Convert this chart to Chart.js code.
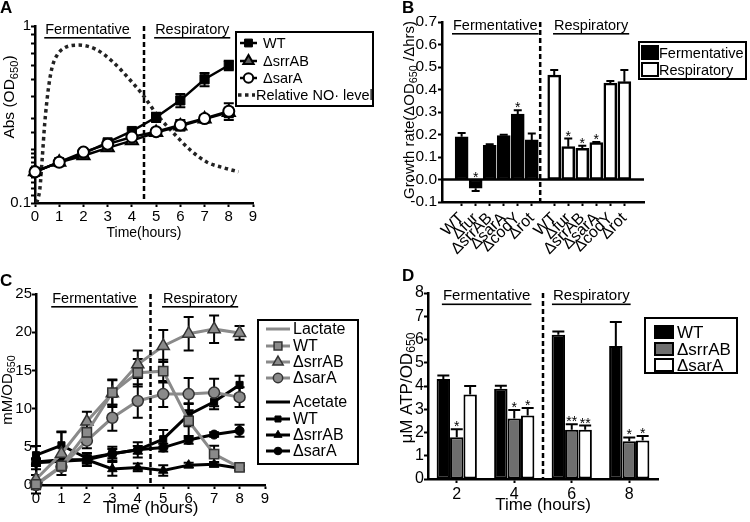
<!DOCTYPE html>
<html>
<head>
<meta charset="utf-8">
<script src="https://cdn.jsdelivr.net/npm/chart.js@4.4.1/dist/chart.umd.min.js"></script>
<style>
  body { margin: 0; background: #fff; width: 750px; height: 522px; position: relative; overflow: hidden; }
  canvas { position: absolute; }
</style>
</head>
<body>
<canvas id="cA" width="375" height="261" style="left:0;top:0"></canvas>
<canvas id="cB" width="375" height="261" style="left:375px;top:0"></canvas>
<canvas id="cC" width="375" height="261" style="left:0;top:261px"></canvas>
<canvas id="cD" width="375" height="261" style="left:375px;top:261px"></canvas>
<script>
// ---- A : growth curves (OD650, log scale) ----
const hoursA   = [0, 1, 2, 3, 4, 5, 6, 7, 8];
const odWT     = [0.15, 0.17, 0.19, 0.22, 0.255, 0.305, 0.38, 0.50, 0.60];
const odWTErr  = [0.005, 0.005, 0.006, 0.006, 0.008, 0.018, 0.033, 0.043, 0.037];
const odSrr    = [0.15, 0.17, 0.185, 0.205, 0.225, 0.25, 0.272, 0.298, 0.325];
const odSrrErr = [0.005, 0.005, 0.005, 0.006, 0.007, 0.01, 0.015, 0.013, 0.02];
const odSar    = [0.15, 0.17, 0.194, 0.215, 0.236, 0.253, 0.276, 0.30, 0.33];
const odSarErr = [0.005, 0.005, 0.006, 0.006, 0.007, 0.01, 0.018, 0.013, 0.036];
const noHours  = [0.07, 0.2, 0.3, 0.4, 0.55, 0.7, 0.9, 1.2, 1.8, 2.5, 3.2, 3.9, 4.5, 5.0, 5.7, 6.4, 7.1, 7.8, 8.4];
const noLevel  = [0.1, 0.12, 0.18, 0.28, 0.44, 0.58, 0.68, 0.75, 0.78, 0.74, 0.63, 0.5, 0.4, 0.32, 0.25, 0.2, 0.17, 0.158, 0.15];

// ---- B : growth rates ----
const strainsB = ['WT', 'Δfur', 'ΔsrrAB', 'ΔsarA', 'ΔcodY', 'Δrot'];
const fermRate = [0.19, -0.039, 0.152, 0.195, 0.291, 0.176];
const fermErr  = [0.017, 0.012, 0.005, 0.004, 0.017, 0.029];
const respRate = [0.464, 0.146, 0.139, 0.164, 0.428, 0.435];
const respErr  = [0.023, 0.036, 0.011, 0.003, 0.01, 0.052];

// ---- C : lactate / acetate ----
const hoursC    = [0, 1, 2, 3, 4, 5, 6, 7, 8];
const lacWT     = [0.1, 2.5, 6.9, 12.1, 14.7, 14.9, 8.4, 4.05, 2.3];
const lacWTErr  = [1.2, 0.6, 0.6, 1.6, 1.8, 1.5, 2.2, 1.1, 0.3];
const lacSrr    = [0.75, 4.1, 8.3, 12.0, 15.8, 18.2, 19.8, 20.4, 19.9];
const lacSrrErr = [1.3, 2.8, 1.3, 1.8, 1.8, 2.1, 2.2, 1.8, 0.9];
const lacSar    = [0, 2.4, 5.8, 8.8, 11.0, 11.9, 11.9, 12.1, 11.5];
const lacSarErr = [0.5, 0.5, 1.0, 1.7, 2.2, 1.7, 2.1, 1.8, 1.3];
const aceWT     = [3.9, 5.2, 3.5, 4.1, 4.6, 6.0, 9.2, 10.9, 13.1];
const aceWTErr  = [1.2, 1.8, 0.7, 0.9, 1.0, 1.2, 1.5, 1.0, 1.2];
const aceSrr    = [3.0, 3.3, 3.3, 2.1, 2.3, 1.9, 2.6, 2.7, 2.2];
const aceSrrErr = [0.5, 0.5, 0.8, 0.9, 0.5, 0.7, 0.3, 0.3, 0.3];
const aceSar    = [2.9, 3.1, 3.3, 4.1, 4.6, 4.9, 5.9, 6.6, 7.1];
const aceSarErr = [0.4, 0.4, 0.5, 0.6, 0.5, 0.5, 0.5, 0.3, 0.8];

// ---- D : ATP ----
const hoursD    = ['2', '4', '6', '8'];
const atpWT     = [4.3, 3.88, 6.2, 5.72];
const atpWTErr  = [0.15, 0.13, 0.14, 1.03];
const atpSrr    = [1.8, 2.6, 2.12, 1.62];
const atpSrrErr = [0.34, 0.37, 0.23, 0.17];
const atpSar    = [3.63, 2.73, 2.12, 1.66];
const atpSarErr = [0.37, 0.32, 0.18, 0.19];

const FONT = '"Liberation Sans", Arial, Helvetica, sans-serif';
Chart.defaults.font.family = FONT;
Chart.defaults.font.size = 15;
Chart.defaults.color = '#000';
Chart.defaults.animation = false;
Chart.defaults.responsive = false;
Chart.defaults.plugins.legend.display = false;
Chart.defaults.plugins.tooltip.enabled = false;

const pts = (xs, ys) => xs.map((x, i) => ({ x: x, y: ys[i] }));
const val = d => (typeof d === 'object' ? d.y : d);

// axis with a forced size so the plot area lands where the figure has it
function axis(o) {
  const a = {
    type: o.type || 'linear',
    afterFit: s => { if (s.isHorizontal()) s.height = o.size; else s.width = o.size; },
    grid: { drawOnChartArea: false, drawTicks: true, tickLength: 4, tickWidth: 2, tickColor: '#000', offset: false },
    border: { display: true, color: '#000', width: 2.5 },
    ticks: { autoSkip: false, padding: o.pad == null ? 1 : o.pad, minRotation: o.rot || 0, maxRotation: o.rot || 0,
             font: { size: o.font || 15 } },
    title: { display: false }
  };
  if (o.min != null) a.min = o.min;
  if (o.max != null) a.max = o.max;
  if (o.step) a.ticks.stepSize = o.step;
  if (o.label) a.ticks.callback = o.label;
  if (o.at) a.afterBuildTicks = s => { s.ticks = o.at.map(v => ({ value: v })); };
  if (o.title) a.title = { display: true, text: o.title, font: { size: o.titleSize || 15 }, padding: { top: 0, bottom: o.titlePad } };
  return a;
}

function drawMarker(ctx, style, x, y, r, fill, stroke, lw) {
  ctx.save();
  ctx.beginPath();
  if (style === 'rect') {
    const h = r * Math.SQRT1_2;
    ctx.rect(x - h, y - h, 2 * h, 2 * h);
  } else if (style === 'triangle') {
    for (let k = 0; k < 3; k++) {
      const a = k * 2 * Math.PI / 3;
      const px = x + Math.sin(a) * r, py = y - Math.cos(a) * r;
      if (k) ctx.lineTo(px, py); else ctx.moveTo(px, py);
    }
    ctx.closePath();
  } else {
    ctx.arc(x, y, r, 0, 2 * Math.PI);
  }
  ctx.fillStyle = fill;
  ctx.fill();
  if (lw) { ctx.lineWidth = lw; ctx.strokeStyle = stroke; ctx.stroke(); }
  ctx.restore();
}

// text with a subscript part, centred on (cx, cy), optionally rotated
function richText(ctx, parts, cx, cy, size, angle) {
  ctx.save();
  ctx.translate(cx, cy);
  ctx.rotate(angle || 0);
  const fs = p => (p.sub ? size * 0.72 : size) + 'px ' + FONT;
  let w = 0;
  parts.forEach(p => { ctx.font = fs(p); p.w = ctx.measureText(p.t).width; w += p.w; });
  let x = -w / 2;
  ctx.textAlign = 'left';
  ctx.textBaseline = 'middle';
  ctx.fillStyle = '#000';
  parts.forEach(p => { ctx.font = fs(p); ctx.fillText(p.t, x, p.sub ? size * 0.3 : 0); x += p.w; });
  ctx.restore();
}

function errorBars(chart, oneSided) {
  const ctx = chart.ctx;
  chart.data.datasets.forEach((ds, i) => {
    if (!ds.errors) return;
    const meta = chart.getDatasetMeta(i);
    const ys = chart.scales[meta.yAxisID];
    const cap = ds.errCap || 5;
    ctx.save();
    ctx.strokeStyle = '#000';
    ctx.lineWidth = 2;
    meta.data.forEach((el, j) => {
      const v = val(ds.data[j]);
      const e = ds.errors[j];
      if (!e) return;
      const a = oneSided ? v : v - e;
      const b = oneSided ? (v >= 0 ? v + e : v - e) : v + e;
      const pa = ys.getPixelForValue(a), pb = ys.getPixelForValue(b);
      ctx.beginPath();
      ctx.moveTo(el.x, pa); ctx.lineTo(el.x, pb);
      ctx.moveTo(el.x - cap, pb); ctx.lineTo(el.x + cap, pb);
      if (!oneSided) { ctx.moveTo(el.x - cap, pa); ctx.lineTo(el.x + cap, pa); }
      ctx.stroke();
    });
    ctx.restore();
  });
}

function drawLegend(chart, L) {
  const ctx = chart.ctx;
  ctx.save();
  const [bx, by, bw, bh] = L.box;
  ctx.fillStyle = '#fff';
  ctx.fillRect(bx, by, bw, bh);
  ctx.lineWidth = 2;
  ctx.strokeStyle = '#000';
  ctx.strokeRect(bx, by, bw, bh);
  L.items.forEach(it => {
    const ds = it.ds != null ? chart.data.datasets[it.ds] : null;
    const sx = it.sx || L.sx;
    const mid = (sx[0] + sx[1]) / 2;
    if (it.kind === 'box') {
      ctx.fillStyle = ds.backgroundColor;
      ctx.fillRect(sx[0], it.y - L.bh / 2, sx[1] - sx[0], L.bh);
      ctx.lineWidth = 2;
      ctx.strokeStyle = '#000';
      ctx.strokeRect(sx[0], it.y - L.bh / 2, sx[1] - sx[0], L.bh);
    } else {
      ctx.beginPath();
      ctx.moveTo(sx[0], it.y);
      ctx.lineTo(sx[1], it.y);
      ctx.lineWidth = ds ? ds.borderWidth : it.width;
      ctx.strokeStyle = ds ? ds.borderColor : it.color;
      ctx.setLineDash((ds && ds.borderDash) || []);
      ctx.stroke();
      ctx.setLineDash([]);
      if (ds && ds.pointRadius) {
        drawMarker(ctx, ds.pointStyle, mid, it.y, ds.pointRadius * 0.85, ds.pointBackgroundColor, ds.pointBorderColor, ds.pointBorderWidth);
      }
    }
    ctx.fillStyle = '#000';
    ctx.font = L.font + 'px ' + FONT;
    ctx.textAlign = 'left';
    ctx.textBaseline = 'middle';
    ctx.fillText(it.text || ds.label, it.tx || L.tx, it.y + 1);
  });
  ctx.restore();
}

// everything Prism draws around the data: letter, y title, phases, divider, stars, legend
function panelPlugin(o) {
  return {
    id: 'panel',
    beforeDatasetsDraw(chart) {
      if (!o.bars) errorBars(chart, false);
    },
    afterDatasetsDraw(chart) {
      const { ctx, chartArea: ca, scales } = chart;
      if (o.bars) errorBars(chart, true);
      if (o.zeroLine) {
        const y0 = scales.y.getPixelForValue(0);
        ctx.save();
        ctx.strokeStyle = '#000';
        ctx.lineWidth = 2.5;
        ctx.beginPath(); ctx.moveTo(ca.left, y0); ctx.lineTo(ca.right, y0); ctx.stroke();
        ctx.restore();
      }
      const xd = scales.x.getPixelForValue(o.divider);
      ctx.save();
      ctx.strokeStyle = '#000';
      ctx.lineWidth = 2.5;
      ctx.setLineDash([5, 3]);
      ctx.beginPath(); ctx.moveTo(xd, ca.top); ctx.lineTo(xd, ca.bottom); ctx.stroke();
      ctx.restore();
    },
    afterDraw(chart) {
      const { ctx, scales } = chart;
      ctx.save();
      ctx.fillStyle = '#000';
      ctx.font = 'bold 17px ' + FONT;
      ctx.textAlign = 'left';
      ctx.textBaseline = 'alphabetic';
      ctx.fillText(o.letter[0], o.letter[1], o.letter[2]);

      richText(ctx, o.ytitle.parts, o.ytitle.x, o.ytitle.y, o.ytitle.size, -Math.PI / 2);

      ctx.font = o.phaseFont + 'px ' + FONT;
      ctx.textAlign = 'center';
      ctx.textBaseline = 'middle';
      o.phases.forEach(p => {
        const x = scales.x.getPixelForValue(p.x);
        const w = ctx.measureText(p.t).width;
        ctx.fillText(p.t, x, o.phaseY);
        ctx.fillRect(x - w / 2 - 1, o.phaseY + o.ulOff, w + 2, 1.6);
      });

      if (o.stars) {
        ctx.font = '14px ' + FONT;
        ctx.textBaseline = 'alphabetic';
        o.stars.forEach(s => {
          const ds = chart.data.datasets[s.ds];
          const el = chart.getDatasetMeta(s.ds).data[s.i];
          const v = val(ds.data[s.i]);
          const top = v >= 0 ? v + ds.errors[s.i] : 0;
          ctx.fillText(s.t || '*', el.x, scales.y.getPixelForValue(top) + 2);
        });
      }
      ctx.restore();
      drawLegend(chart, o.legend);
    }
  };
}

// ================= A =================
new Chart(document.getElementById('cA'), {
  type: 'line',
  data: {
    datasets: [
      { label: 'WT', data: pts(hoursA, odWT), errors: odWTErr, borderColor: '#000', borderWidth: 2.5,
        pointStyle: 'rect', pointRadius: 6.5, pointBackgroundColor: '#000', pointBorderColor: '#000', pointBorderWidth: 1, order: 2, clip: false },
      { label: 'ΔsrrAB', data: pts(hoursA, odSrr), errors: odSrrErr, borderColor: '#000', borderWidth: 2.5,
        pointStyle: 'triangle', pointRadius: 7, pointBackgroundColor: '#5a5a5a', pointBorderColor: '#000', pointBorderWidth: 2, order: 1, clip: false },
      { label: 'ΔsarA', data: pts(hoursA, odSar), errors: odSarErr, borderColor: '#000', borderWidth: 2.5,
        pointStyle: 'circle', pointRadius: 5.5, pointBackgroundColor: '#fff', pointBorderColor: '#000', pointBorderWidth: 2, order: 0, clip: false },
      { label: 'Relative NO· level', data: pts(noHours, noLevel), borderColor: '#222', borderWidth: 3.5, borderDash: [3.5, 3.5],
        pointRadius: 0, cubicInterpolationMode: 'monotone', order: 3 }
    ]
  },
  options: {
    layout: { padding: { left: 0, right: 122, top: 26, bottom: 0 } },
    scales: {
      x: axis({ min: 0, max: 9, step: 1, size: 58, title: 'Time(hours)', titleSize: 14, titlePad: 19.5 }),
      y: axis({ type: 'logarithmic', min: 0.1, max: 1, size: 35, pad: 0,
                label: v => (Math.abs(v - 0.1) < 1e-6 ? '0.1' : Math.abs(v - 1) < 1e-6 ? '1' : '') })
    }
  },
  plugins: [panelPlugin({
    letter: ['A', 0, 13],
    ytitle: { parts: [{ t: 'Abs (OD' }, { t: '650', sub: true }, { t: ')' }], x: 10, y: 97, size: 15.5 },
    divider: 4.5,
    phaseFont: 14.5, phaseY: 30, ulOff: 7,
    phases: [{ t: 'Fermentative', x: 2.17 }, { t: 'Respiratory', x: 6.49 }],
    legend: {
      box: [236, 32, 137, 74], sx: [240, 257], tx: 263, font: 14.5,
      items: [{ ds: 0, y: 43 }, { ds: 1, y: 61 }, { ds: 2, y: 78 }, { ds: 3, y: 95, sx: [238, 255], tx: 256 }]
    }
  })]
});

// ================= B =================
const respShift = 6.6;   // gap between the two groups of bars
const tickPosB = strainsB.map((s, i) => i).concat(strainsB.map((s, i) => i + respShift));
new Chart(document.getElementById('cB'), {
  type: 'bar',
  data: {
    datasets: [
      { label: 'Fermentative', data: fermRate.map((v, i) => ({ x: i, y: v })), errors: fermErr, errCap: 4,
        backgroundColor: '#000', borderColor: '#000', borderWidth: 2, borderSkipped: false },
      { label: 'Respiratory', data: respRate.map((v, i) => ({ x: i + respShift, y: v })), errors: respErr, errCap: 4,
        backgroundColor: '#fff', borderColor: '#000', borderWidth: 2.5, borderSkipped: false }
    ]
  },
  options: {
    grouped: false,
    barThickness: 13,
    layout: { padding: { left: 0, right: 106, top: 22, bottom: 0 } },
    scales: {
      x: axis({ min: -0.8, max: 12.4, size: 59, rot: 45, font: 16, pad: 3, at: tickPosB,
                label: (v, i) => strainsB[i % strainsB.length] }),
      y: axis({ min: -0.1, max: 0.7, step: 0.1, size: 67, pad: 1, font: 15.5, label: v => v.toFixed(1) })
    }
  },
  plugins: [panelPlugin({
    bars: true, zeroLine: true,
    letter: ['B', 27, 13],
    ytitle: { parts: [{ t: 'Growth rate(ΔOD' }, { t: '650', sub: true }, { t: ' /Δhrs)' }], x: 35, y: 110, size: 15 },
    divider: 5.6,
    phaseFont: 14.5, phaseY: 26, ulOff: 7,
    phases: [{ t: 'Fermentative', x: 2.4 }, { t: 'Respiratory', x: 9.23 }],
    stars: [{ ds: 0, i: 1 }, { ds: 0, i: 4 }, { ds: 1, i: 1 }, { ds: 1, i: 2 }, { ds: 1, i: 3 }],
    legend: {
      box: [264, 42, 107, 37], sx: [267, 283], tx: 284, font: 14.5, bh: 13,
      items: [{ ds: 0, y: 52.5, kind: 'box' }, { ds: 1, y: 69.5, kind: 'box' }]
    }
  })]
});

// ================= C =================
const lacGray = '#8a8a8a';
function lacSet(label, ys, errs, style, r) {
  return { label: label, data: pts(hoursC, ys), errors: errs, borderColor: lacGray, borderWidth: 3,
           pointStyle: style, pointRadius: r, pointBackgroundColor: lacGray, pointBorderColor: '#333', pointBorderWidth: 1.5, clip: false };
}
function aceSet(label, ys, errs, style, r) {
  return { label: label, data: pts(hoursC, ys), errors: errs, borderColor: '#000', borderWidth: 3,
           pointStyle: style, pointRadius: r, pointBackgroundColor: '#000', pointBorderColor: '#000', pointBorderWidth: 1, clip: false };
}
new Chart(document.getElementById('cC'), {
  type: 'line',
  data: {
    datasets: [
      lacSet('WT', lacWT, lacWTErr, 'rect', 6.5),
      lacSet('ΔsrrAB', lacSrr, lacSrrErr, 'triangle', 7),
      lacSet('ΔsarA', lacSar, lacSarErr, 'circle', 5.5),
      aceSet('WT', aceWT, aceWTErr, 'rect', 5),
      aceSet('ΔsrrAB', aceSrr, aceSrrErr, 'triangle', 5.5),
      aceSet('ΔsarA', aceSar, aceSarErr, 'circle', 4.5)
    ]
  },
  options: {
    layout: { padding: { left: 0, right: 110, top: 33, bottom: 0 } },
    scales: {
      x: axis({ min: 0, max: 9, step: 1, size: 37, title: 'Time (hours)', titleSize: 17, titlePad: 3 }),
      y: axis({ min: 0, max: 25, step: 5, size: 36, pad: 0 })
    }
  },
  plugins: [panelPlugin({
    letter: ['C', 0, 25],
    ytitle: { parts: [{ t: 'mM/OD' }, { t: '650', sub: true }], x: 8, y: 129, size: 15 },
    divider: 4.5,
    phaseFont: 14.5, phaseY: 38, ulOff: 7,
    phases: [{ t: 'Fermentative', x: 2.3 }, { t: 'Respiratory', x: 6.45 }],
    legend: {
      box: [258, 59, 100, 144], sx: [266, 290], tx: 293, font: 16,
      items: [
        { text: 'Lactate', y: 68, color: lacGray, width: 3 },
        { ds: 0, y: 85 }, { ds: 1, y: 101 }, { ds: 2, y: 117 },
        { text: 'Acetate', y: 141, color: '#000', width: 3 },
        { ds: 3, y: 158 }, { ds: 4, y: 174 }, { ds: 5, y: 190 }
      ]
    }
  })]
});

// ================= D =================
new Chart(document.getElementById('cD'), {
  type: 'bar',
  data: {
    labels: hoursD,
    datasets: [
      { label: 'WT', data: atpWT, errors: atpWTErr, errCap: 6, backgroundColor: '#000', borderColor: '#000', borderWidth: 2, borderSkipped: false },
      { label: 'ΔsrrAB', data: atpSrr, errors: atpSrrErr, errCap: 6, backgroundColor: '#6e6e6e', borderColor: '#000', borderWidth: 2, borderSkipped: false },
      { label: 'ΔsarA', data: atpSar, errors: atpSarErr, errCap: 6, backgroundColor: '#fff', borderColor: '#000', borderWidth: 2, borderSkipped: false }
    ]
  },
  options: {
    categoryPercentage: 0.7,
    barPercentage: 1.0,
    layout: { padding: { left: 0, right: 92, top: 32, bottom: 0 } },
    scales: {
      x: axis({ type: 'category', size: 43, font: 16, pad: 2, title: 'Time (hours)', titleSize: 17, titlePad: 6 }),
      y: axis({ min: 0, max: 8, step: 1, size: 53, pad: 0, font: 16 })
    }
  },
  plugins: [panelPlugin({
    bars: true,
    letter: ['D', 27, 20],
    ytitle: { parts: [{ t: 'μM ATP/OD' }, { t: '650', sub: true }], x: 32, y: 127, size: 17 },
    divider: 1.5,
    phaseFont: 15, phaseY: 35, ulOff: 7.5,
    phases: [{ t: 'Fermentative', x: 0.52 }, { t: 'Respiratory', x: 2.34 }],
    stars: [{ ds: 1, i: 0 }, { ds: 1, i: 1 }, { ds: 2, i: 1 }, { ds: 1, i: 2, t: '**' }, { ds: 2, i: 2, t: '**' },
            { ds: 1, i: 3 }, { ds: 2, i: 3 }],
    legend: {
      box: [270, 57, 92, 55], sx: [280, 298], tx: 302, font: 17, bh: 12,
      items: [{ ds: 0, y: 71, kind: 'box' }, { ds: 1, y: 88, kind: 'box' }, { ds: 2, y: 104, kind: 'box' }]
    }
  })]
});
</script>
</body>
</html>
